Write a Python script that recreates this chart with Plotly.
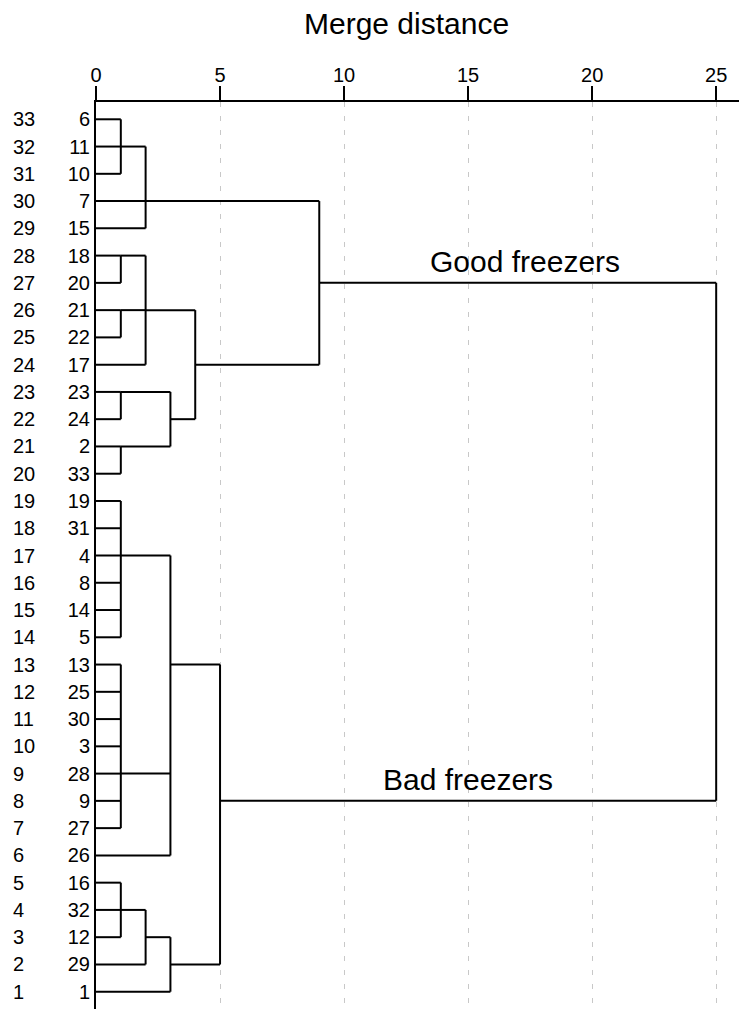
import plotly.graph_objects as go

# ---------------- data ----------------
# leaves from top to bottom (row 33 at top, row 1 at bottom)
leaf_labels = ["6", "11", "10", "7", "15", "18", "20", "21", "22", "17", "23",
               "24", "2", "33", "19", "31", "4", "8", "14", "5", "13", "25",
               "30", "3", "28", "9", "27", "26", "16", "32", "12", "29", "1"]
row_numbers = list(range(len(leaf_labels), 0, -1))  # 33 ... 1

# merges: name, children, merge distance, leaf whose row carries the merged branch
merge_names = ["A", "B", "D", "E", "F", "G", "H", "I", "J", "GOOD",
               "K", "L", "M", "N", "O", "P", "BAD", "ROOT"]
merge_children = [
    ["6", "11", "10"],
    ["A", "7", "15"],
    ["18", "20"],
    ["21", "22"],
    ["D", "E", "17"],
    ["23", "24"],
    ["2", "33"],
    ["G", "H"],
    ["F", "I"],
    ["B", "J"],
    ["19", "31", "4", "8", "14", "5"],
    ["13", "25", "30", "3", "28", "9", "27"],
    ["K", "L", "26"],
    ["16", "32", "12"],
    ["N", "29"],
    ["O", "1"],
    ["M", "P"],
    ["GOOD", "BAD"],
]
merge_dist = [1, 2, 1, 1, 2, 1, 1, 3, 4, 9, 1, 1, 3, 1, 2, 3, 5, 25]
merge_rep = ["11", "7", "18", "21", "21", "23", "2", "24", "17", "20",
             "4", "28", "13", "32", "12", "29", "9", None]

group_labels = ["Good freezers", "Bad freezers"]
group_nodes = ["GOOD", "BAD"]

x_ticks = [0, 5, 10, 15, 20, 25]

# ---------------- build segments ----------------
leaf_row = {lab: r for lab, r in zip(leaf_labels, row_numbers)}
node_row = dict(leaf_row)
node_height = {lab: 0 for lab in leaf_labels}

xs, ys = [], []
for name, kids, d, rep in zip(merge_names, merge_children, merge_dist, merge_rep):
    kid_rows = [node_row[k] for k in kids]
    # vertical connector
    xs += [d, d, None]
    ys += [max(kid_rows), min(kid_rows), None]
    # horizontal branches
    for k in kids:
        xs += [node_height[k], d, None]
        ys += [node_row[k], node_row[k], None]
    node_height[name] = d
    node_row[name] = leaf_row[rep] if rep is not None else sum(kid_rows) / len(kid_rows)

fig = go.Figure()
fig.add_trace(go.Scatter(x=xs, y=ys, mode="lines",
                         line=dict(color="black", width=2),
                         hoverinfo="skip", showlegend=False))

W, H = 739, 1009
ML, MR, MT, MB = 96, 0, 102, 0
plot_w = W - ML - MR
font = "Liberation Sans, Arial, sans-serif"
FS = 20

annotations = []
# left column of position numbers
for r in row_numbers:
    annotations.append(dict(x=(11 - ML) / plot_w, xref="paper", xanchor="left",
                            y=r, yref="y", yanchor="middle", text=str(r),
                            showarrow=False, font=dict(size=FS, color="black", family=font)))

# group labels
for lab, node, dx in zip(group_labels, group_nodes, [0.3, 0.0]):
    d0 = node_height[node]
    d1 = merge_dist[-1]
    annotations.append(dict(x=(d0 + d1) / 2 + dx, xref="x", y=node_row[node], yref="y",
                            xanchor="center", yanchor="bottom", yshift=3,
                            text=lab, showarrow=False,
                            font=dict(size=30, color="black", family=font)))

# axis title
annotations.append(dict(x=12.5, xref="x", y=1 + (MT - 24) / (H - MT - MB), yref="paper",
                        xanchor="center", yanchor="middle", text="Merge distance",
                        showarrow=False, font=dict(size=30, color="black", family=font)))

fig.update_layout(
    width=W, height=H,
    margin=dict(l=ML, r=MR, t=MT, b=MB, autoexpand=False),
    paper_bgcolor="white", plot_bgcolor="white",
    font=dict(family=font, color="black", size=FS),
    annotations=annotations,
    xaxis=dict(side="top", range=[0, 25.92], tickvals=x_ticks,
               showline=True, linecolor="black", linewidth=2,
               ticks="outside", ticklen=14, tickwidth=2, tickcolor="black",
               ticklabelstandoff=-4,
               tickfont=dict(size=FS, color="black", family=font),
               showgrid=True, gridcolor="#c8c8c8", gridwidth=1, griddash="5px,9px",
               zeroline=False, automargin=False, fixedrange=True),
    yaxis=dict(range=[0.366, 33.634], tickvals=row_numbers, ticktext=leaf_labels,
               showline=True, linecolor="black", linewidth=2, ticks="",
               ticklabelstandoff=0,
               tickfont=dict(size=FS, color="black", family=font),
               showgrid=False, zeroline=False, automargin=False, fixedrange=True),
)

fig.write_html(
    "out.html",
    config={"displayModeBar": False},
    post_script="document.body.style.margin='0';document.body.style.overflow='hidden';",
)
